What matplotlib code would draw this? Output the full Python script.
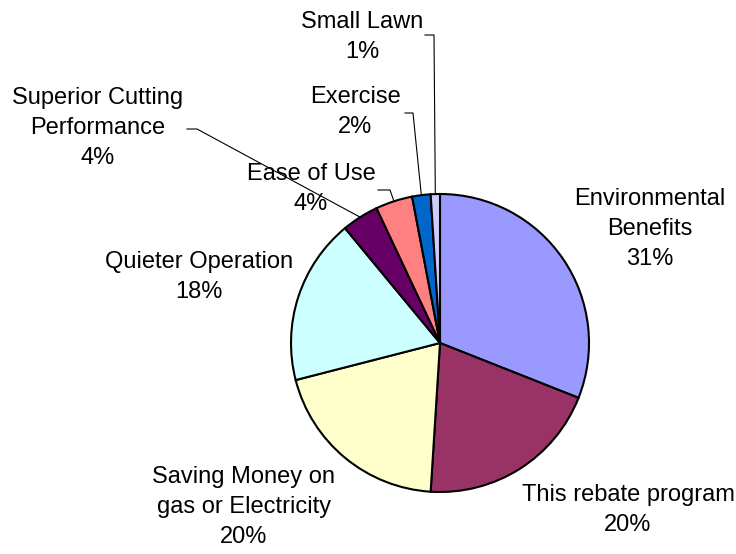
import numpy as np
import matplotlib.pyplot as plt

# survey answers, clockwise from 12 o'clock
reasons = ['Environmental\nBenefits', 'This rebate program',
           'Saving Money on\ngas or Electricity', 'Quieter Operation',
           'Superior Cutting\nPerformance', 'Ease of Use', 'Exercise', 'Small Lawn']
shares = [31, 20, 20, 18, 4, 4, 2, 1]
colors = ['#9999FF', '#993366', '#FFFFCC', '#CCFFFF',
          '#660066', '#FF8080', '#0066CC', '#CCCCFF']

W, H = 736, 554
fig = plt.figure(figsize=(W / 100, H / 100), dpi=100)
ax = fig.add_axes([0, 0, 1, 1])

cx, cy, r = 440, H - 343, 149
ax.pie(shares, colors=colors, startangle=90, counterclock=False,
       center=(cx, cy), radius=r, frame=True,
       wedgeprops=dict(edgecolor='black', linewidth=1.5))
ax.set_xlim(0, W)
ax.set_ylim(0, H)
ax.axis('off')

plt.rcParams['font.family'] = ['Liberation Sans', 'DejaVu Sans']

# label block centres (x, y from top)
label_pos = [(650, 229), (628, 510), (244, 507), (199, 277),
             (98, 128), (311, 189), (355, 112), (362, 37)]
# leader elbows for the small slices: (start x, end x, y from top)
leaders = {4: (187, 197, 129), 5: (378, 390, 190),
           6: (405, 413, 113), 7: (425, 434, 35)}

cum = np.cumsum([0] + shares)
total = cum[-1]
for i, (name, val) in enumerate(zip(reasons, shares)):
    x, y = label_pos[i]
    ax.text(x, H - y, f'{name}\n{val}%', ha='center', va='center',
            fontsize=17, linespacing=1.45, color='black')
    if i in leaders:
        x0, x1, ly = leaders[i]
        mid = (cum[i] + cum[i + 1]) / 2 / total * 2 * np.pi
        px = cx + r * np.sin(mid)
        py = cy + r * np.cos(mid)
        ax.plot([x0, x1, px], [H - ly, H - ly, py], color='black', lw=0.8)

fig.savefig('out.png', dpi=100)
